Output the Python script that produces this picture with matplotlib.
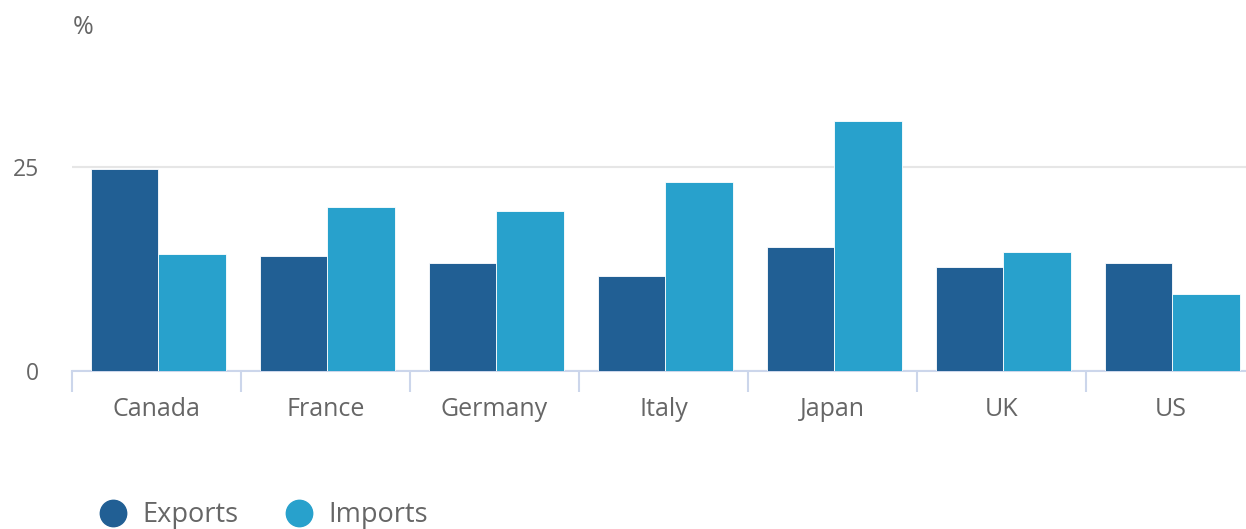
import matplotlib
matplotlib.use("Agg")
import matplotlib.pyplot as plt
from matplotlib.lines import Line2D
import numpy as np

countries = ["Canada", "France", "Germany", "Italy", "Japan", "UK", "US"]
exports = [24.8, 14.1, 13.2, 11.6, 15.2, 12.7, 13.2]
imports = [14.3, 20.1, 19.6, 23.2, 30.6, 14.6, 9.4]

C_EXP = "#215f94"
C_IMP = "#28a1cc"
TXT = "#666666"
plt.rcParams['font.family'] = ['Open Sans', 'DejaVu Sans']

W, H = 1246, 529
fig = plt.figure(figsize=(W/100, H/100), dpi=100)
# axes placed in pixel terms: x from 72 to ~1255, y baseline at 371
ax = fig.add_axes([72/W, (H-371)/H, (1255-72)/W, 311/H])

x = np.arange(len(countries))
ax.bar(x-0.19, exports, 0.4, color=C_EXP, edgecolor="white", lw=0.6, zorder=3)
ax.bar(x+0.21, imports, 0.4, color=C_IMP, edgecolor="white", lw=0.6, zorder=3)

ax.set_xlim(-0.5, len(countries)-0.5)
ax.set_ylim(0, 311/8.16)
ax.set_yticks([0, 25])
ax.set_yticklabels(["0", "25"])
ax.grid(axis="y", color="#e6e6e6", lw=1.5, zorder=0)
ax.tick_params(axis="y", length=0, pad=23.5, labelsize=16.5, labelcolor=TXT)

ax.set_xticks(x)
ax.set_xticklabels(countries)
ax.set_xticks(np.arange(len(countries)+1)-0.5, minor=True)
ax.tick_params(axis="x", which="major", length=0, pad=18.5, labelsize=18, labelcolor=TXT)
ax.tick_params(axis="x", which="minor", length=15, width=1.5, color="#ccd6eb")

for s in ["top", "right", "left"]:
    ax.spines[s].set_visible(False)
ax.spines["bottom"].set_color("#ccd6eb")
ax.spines["bottom"].set_linewidth(1.5)

fig.text(73/W, 1-28/H, "%", ha="left", va="center", fontsize=18, color=TXT)

handles = [Line2D([], [], ls="none", marker="o", ms=19, color=C_EXP),
           Line2D([], [], ls="none", marker="o", ms=19, color=C_IMP)]
fig.legend(handles, ["Exports", "Imports"], loc="center left",
           bbox_to_anchor=(99.5/W, 1-515/H), ncol=2, frameon=False,
           fontsize=19.5, labelcolor=TXT, handlelength=1.0, handletextpad=0.6,
           columnspacing=1.72, borderpad=0, borderaxespad=0)

fig.savefig("out.png", dpi=100, facecolor="white")
